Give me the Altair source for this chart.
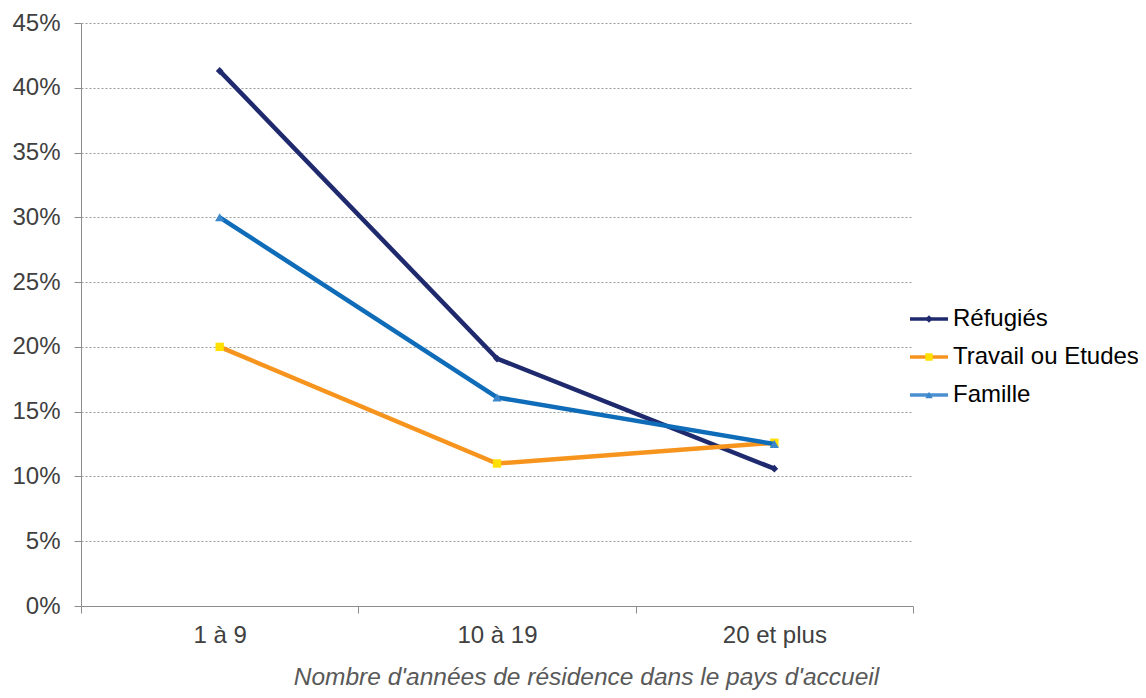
import altair as alt
import pandas as pd

categories = ["1 à 9", "10 à 19", "20 et plus"]
series = ["Réfugiés", "Travail ou Etudes", "Famille"]
refugies = [0.413, 0.191, 0.106]
travail = [0.200, 0.110, 0.126]
famille = [0.300, 0.161, 0.125]
y_ticks = [0, 0.05, 0.10, 0.15, 0.20, 0.25, 0.30, 0.35, 0.40, 0.45]

line_colors = ["#1F2A6E", "#F7941D", "#0F6CB8"]
marker_colors = ["#1F2A6E", "#FFE000", "#3C87CC"]
legend_line_colors = ["#1F2A6E", "#F7941D", "#4A8FD2"]
shapes = ["diamond", "square", "triangle-up"]
marker_sizes = [60, 70, 85]

FONT = "Liberation Sans"
FS = 24

rows = []
for s, vals in zip(series, [refugies, travail, famille]):
    for c, v in zip(categories, vals):
        rows.append({"serie": s, "cat": c, "val": v})
df = pd.DataFrame(rows)

x_enc = alt.X(
    "cat:N",
    sort=categories,
    scale=alt.Scale(domain=categories, paddingInner=0, paddingOuter=0),
    axis=alt.Axis(
        title="Nombre d'années de résidence dans le pays d'accueil",
        titleFont=FONT, titleFontSize=24.5, titleFontStyle="italic",
        titleFontWeight="normal", titleColor="#595959",
        titleX=505, titleY=78, titleBaseline="alphabetic", titleAlign="center",
        labelFont=FONT, labelFontSize=FS, labelColor="#404040",
        labelAngle=0, labelPadding=10,
        tickBand="extent", tickSize=7, tickColor="#8C8C8C",
        domainColor="#8C8C8C", grid=False,
    ),
)
y_enc = alt.Y(
    "val:Q",
    scale=alt.Scale(domain=[0, 0.45], nice=False, zero=True),
    axis=alt.Axis(
        title=None, values=y_ticks, format=".0%",
        labelFont=FONT, labelFontSize=FS, labelColor="#404040", labelPadding=14,
        tickSize=7, tickColor="#8C8C8C", domainColor="#8C8C8C",
        grid=True, gridColor="#9A9A9A", gridDash=[2, 2], gridWidth=1,
    ),
)

layers = []
for i, s in enumerate(series):
    base = alt.Chart(df).transform_filter(alt.datum.serie == s)
    layers.append(
        base.mark_line(color=line_colors[i], strokeWidth=4.5).encode(x=x_enc, y=y_enc)
    )
    layers.append(
        base.mark_point(
            shape=shapes[i], filled=True, fill=marker_colors[i],
            size=marker_sizes[i], opacity=1, strokeWidth=0,
        ).encode(x=x_enc, y=y_enc)
    )
main = alt.layer(*layers)

# legend
leg = pd.DataFrame({"serie": series, "idx": [0, 1, 2]})
leg_y = alt.Y("idx:Q", scale=alt.Scale(domain=[0, 2], range=[296, 372]), axis=None)
leg_base = alt.Chart(leg)
leg_rule = leg_base.mark_rule(strokeWidth=3.5).encode(
    x=alt.value(829), x2=alt.value(867), y=leg_y,
    color=alt.Color("serie:N", scale=alt.Scale(domain=series, range=legend_line_colors), legend=None),
)
leg_pt = leg_base.mark_point(filled=True, opacity=1, size=55, strokeWidth=0).encode(
    x=alt.value(848), y=leg_y,
    shape=alt.Shape("serie:N", scale=alt.Scale(domain=series, range=shapes), legend=None),
    fill=alt.Fill("serie:N", scale=alt.Scale(domain=series, range=marker_colors), legend=None),
)
leg_txt = leg_base.mark_text(
    align="left", baseline="middle", font=FONT, fontSize=FS, color="#000000", dx=0
).encode(x=alt.value(872), y=leg_y, text="serie:N")
legend = alt.layer(leg_rule, leg_pt, leg_txt)

chart = (
    alt.layer(main, legend)
    .resolve_scale(y="independent")
    .properties(
        width=832, height=583,
        autosize=alt.AutoSizeParams(type="none"),
        padding={"left": 73, "top": 15, "right": 225, "bottom": 84},
        background="white",
    )
    .configure_view(stroke=None)
)

chart.save("out.html", embed_options={"renderer": "svg", "actions": False})
